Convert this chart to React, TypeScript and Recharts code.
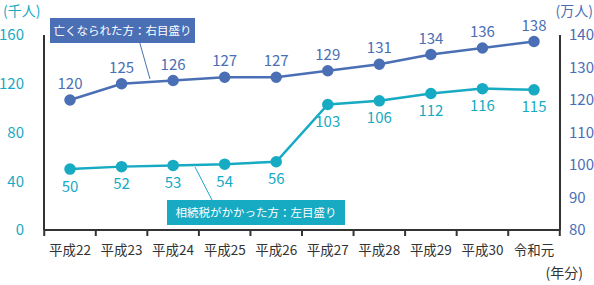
import React from 'react'
import { LineChart, Line, XAxis, YAxis, LabelList } from 'recharts'

// 年分
const years = ['平成22', '平成23', '平成24', '平成25', '平成26', '平成27', '平成28', '平成29', '平成30', '令和元']
// 亡くなられた方（万人）右目盛り
const deaths = [120, 125, 126, 127, 127, 129, 131, 134, 136, 138]
// 相続税がかかった方（千人）左目盛り
const taxed = [50, 52, 53, 54, 56, 103, 106, 112, 116, 115]

const leftTicks = [0, 40, 80, 120, 160]
const rightTicks = [80, 90, 100, 110, 120, 130, 140]

const BLUE = '#4A6FB5'
const CYAN = '#17AAC3'
const AXIS = '#333333'
const FONT = '"Noto Sans CJK JP", "Noto Sans", sans-serif'

const data = years.map((y, i) => ({ year: y, deaths: deaths[i], taxed: taxed[i] }))

// plot spans 44..560, points padded by half a category
const PAD = 26
const STEP = (516 - PAD * 2) / (years.length - 1)

// label under the point, tick mark on the category boundary to its left
const YearTick = (props: any) => {
  const { x, y, payload, index } = props
  const axisY = y - 6
  return (
    <g>
      <line x1={x - STEP / 2} x2={x - STEP / 2} y1={axisY} y2={axisY + 6} stroke={AXIS} strokeWidth={2} />
      {index === years.length - 1 && (
        <line x1={x + STEP / 2} x2={x + STEP / 2} y1={axisY} y2={axisY + 6} stroke={AXIS} strokeWidth={2} />
      )}
      <text x={x} y={y + 19} textAnchor="middle" fill={AXIS} fontSize={13.5} fontFamily={FONT}>
        {payload.value}
      </text>
    </g>
  )
}

export default function App() {
  return (
    <div style={{ position: 'absolute', left: 0, top: 0, width: 594, height: 285, background: '#fff', fontFamily: FONT }}>
      <LineChart width={594} height={285} data={data} margin={{ top: 35, right: 0, bottom: 30, left: 0 }}>
        <XAxis
          dataKey="year"
          padding={{ left: PAD, right: PAD }}
          axisLine={{ stroke: AXIS, strokeWidth: 2 }}
          tickLine={false}
          tickSize={4}
          tick={<YearTick />}
          height={25}
          interval={0}
        />
        <YAxis
          yAxisId="left"
          domain={[0, 160]}
          ticks={leftTicks}
          width={44}
          axisLine={{ stroke: AXIS, strokeWidth: 2 }}
          tickLine={false}
          tick={{ fill: CYAN, fontSize: 15, fontFamily: FONT }}
          tickMargin={14}
        />
        <YAxis
          yAxisId="right"
          orientation="right"
          domain={[80, 140]}
          ticks={rightTicks}
          width={34}
          axisLine={{ stroke: AXIS, strokeWidth: 2 }}
          tickLine={false}
          tick={{ fill: BLUE, fontSize: 15, fontFamily: FONT, textAnchor: 'start' }}
          tickMargin={3}
        />
        <Line
          yAxisId="right"
          dataKey="deaths"
          stroke={BLUE}
          strokeWidth={2.5}
          dot={{ r: 4.5, fill: BLUE, stroke: BLUE }}
          isAnimationActive={false}
        >
          <LabelList dataKey="deaths" position="top" offset={11} fill={BLUE} fontSize={15} fontFamily={FONT} />
        </Line>
        <Line
          yAxisId="left"
          dataKey="taxed"
          stroke={CYAN}
          strokeWidth={2.5}
          dot={{ r: 4.5, fill: CYAN, stroke: CYAN }}
          isAnimationActive={false}
        >
          <LabelList dataKey="taxed" position="bottom" offset={12} fill={CYAN} fontSize={15} fontFamily={FONT} />
        </Line>
      </LineChart>

      {/* annotations */}
      <svg width={594} height={285} style={{ position: 'absolute', left: 0, top: 0, pointerEvents: 'none' }}>
        <line x1={137} y1={33} x2={150} y2={79} stroke={BLUE} strokeWidth={1} />
        <line x1={195} y1={167} x2={212} y2={200} stroke={CYAN} strokeWidth={1} />
        <rect x={50} y={18} width={145} height={25} fill={BLUE} />
        <text x={122.5} y={35} textAnchor="middle" fill="#fff" fontSize={11.5} fontFamily={FONT}>亡くなられた方：右目盛り</text>
        <rect x={167} y={200} width={178} height={25} fill={CYAN} />
        <text x={256} y={217} textAnchor="middle" fill="#fff" fontSize={11.5} fontFamily={FONT}>相続税がかかった方：左目盛り</text>
        <text x={3} y={16} fill={CYAN} fontSize={14} fontFamily={FONT}>(千人)</text>
        <text x={593} y={16} textAnchor="end" fill={BLUE} fontSize={14} fontFamily={FONT}>(万人)</text>
        <text x={583} y={278} textAnchor="end" fill={AXIS} fontSize={14} fontFamily={FONT}>(年分)</text>
      </svg>
    </div>
  )
}
